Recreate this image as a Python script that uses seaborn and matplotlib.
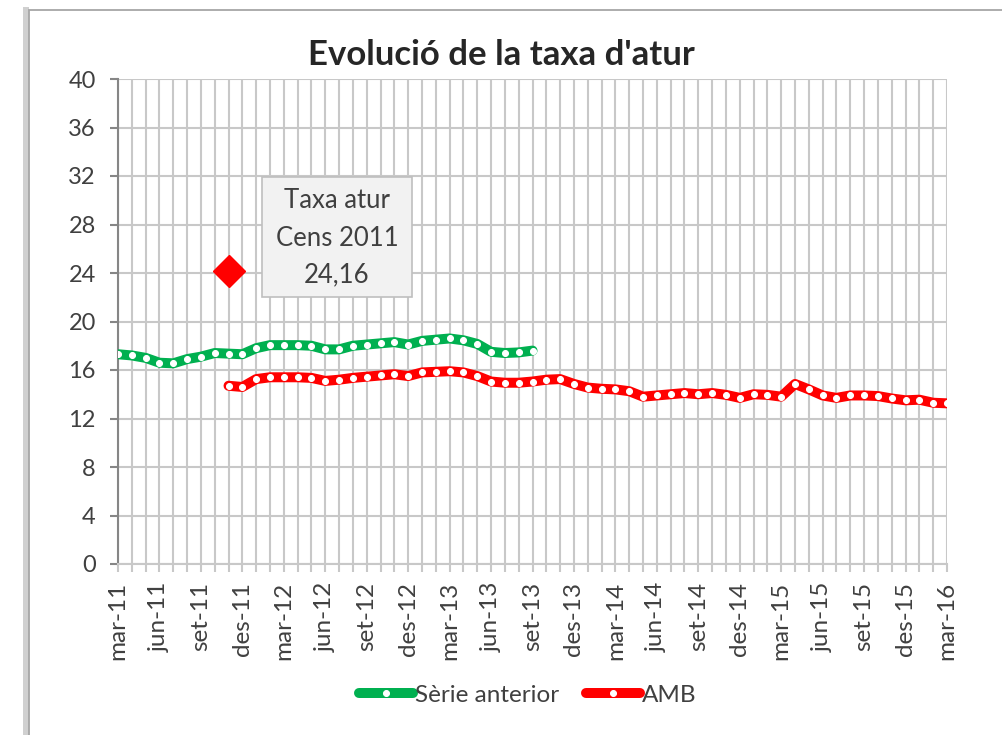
"""
Evolució de la taxa d'atur - Sèrie anterior vs AMB
"""
import matplotlib
matplotlib.use("Agg")
import matplotlib.pyplot as plt
from matplotlib.patches import Rectangle
import pandas as pd
import seaborn as sns

tick_labels = ["mar-11", "jun-11", "set-11", "des-11", "mar-12", "jun-12", "set-12",
               "des-12", "mar-13", "jun-13", "set-13", "des-13", "mar-14", "jun-14",
               "set-14", "des-14", "mar-15", "jun-15", "set-15", "des-15", "mar-16"]

# monthly values, mar-11 .. set-13
serie_anterior = [17.3, 17.2, 17.0, 16.6, 16.55, 16.9, 17.1, 17.4, 17.35, 17.3,
                  17.8, 18.05, 18.05, 18.05, 18.0, 17.7, 17.7, 18.0, 18.1, 18.2,
                  18.3, 18.1, 18.4, 18.5, 18.6, 18.45, 18.15, 17.5, 17.4, 17.45, 17.6]
# monthly values, nov-11 .. mar-16
amb = [14.7, 14.6,
       15.25, 15.4, 15.4, 15.4, 15.35, 15.1, 15.2, 15.35, 15.45, 15.55, 15.65, 15.5,
       15.8, 15.85, 15.9, 15.8, 15.5, 15.05, 14.95, 14.95, 15.05, 15.2, 15.25, 14.85,
       14.55, 14.45, 14.4, 14.25, 13.8, 13.9, 14.0, 14.1, 14.0, 14.1, 13.95, 13.7,
       14.0, 13.95, 13.8, 14.85, 14.4, 13.9, 13.7, 13.9, 13.9, 13.85, 13.65, 13.5,
       13.55, 13.3, 13.25]
serie_start = 0   # mar-11
amb_start = 8     # nov-11
cens_month = 8
cens_value = 24.16
cens_label = "Taxa atur\nCens 2011\n24,16"

df = pd.concat([
    pd.DataFrame({"mes": range(serie_start, serie_start + len(serie_anterior)),
                  "taxa": serie_anterior, "serie": "Sèrie anterior"}),
    pd.DataFrame({"mes": range(amb_start, amb_start + len(amb)),
                  "taxa": amb, "serie": "AMB"}),
])
colors = {"Sèrie anterior": "#00b050", "AMB": "#ff0000"}

sns.set_style("white")
plt.rcParams["font.family"] = ["Lato", "DejaVu Sans"]

fig = plt.figure(figsize=(10.03, 7.35), dpi=100)
ax = fig.add_axes([118 / 1003, 1 - 564 / 735, 829 / 1003, 485 / 735])
ax.set_facecolor("none")
ax.set_zorder(3)

# chart frame with a bit of shadow on the left
fig.patches.append(Rectangle((23 / 1003, -0.1), 0.006, 1.09, transform=fig.transFigure,
                             facecolor="#bdbdbd", edgecolor="none", alpha=0.7,
                             zorder=-2))
fig.patches.append(Rectangle((29 / 1003, -0.1), 1.0, 1 - 10 / 735 + 0.1,
                             transform=fig.transFigure, facecolor="white",
                             edgecolor="#a6a6a6", lw=1.3, zorder=-1))

for name, sub in df.groupby("serie", sort=False):
    sns.lineplot(data=sub, x="mes", y="taxa", ax=ax, color=colors[name], lw=7.2,
                 marker="o", markersize=4.3, markerfacecolor="white",
                 markeredgecolor="white", solid_capstyle="round",
                 solid_joinstyle="round", label=name, zorder=4)

ax.plot([cens_month], [cens_value], marker="D", markersize=16.5, color="#ff0000",
        lw=0, zorder=5)

ax.set_xlim(0, 60)
ax.set_ylim(0, 40)
ax.set_yticks(range(0, 41, 4))
ax.set_xticks(range(0, 61, 3))
ax.set_xticklabels(tick_labels, rotation=90)
ax.set_xticks(range(0, 61), minor=True)
ax.set_xlabel("")
ax.set_ylabel("")

ax.grid(True, which="both", axis="x", color="#c8c8c8", lw=1.5)
ax.grid(True, which="major", axis="y", color="#c8c8c8", lw=1.5)
ax.set_axisbelow(True)
for s in ["top", "right"]:
    ax.spines[s].set_visible(False)
ax.spines["left"].set_color("#868686")
ax.spines["left"].set_linewidth(1.5)
ax.spines["bottom"].set_color("#c8c8c8")
ax.spines["bottom"].set_linewidth(1.5)

ax.tick_params(axis="y", which="major", length=6, width=1.5, color="#868686",
               labelsize=17, labelcolor="#404040", pad=10, left=True)
ax.tick_params(axis="x", which="both", length=6, width=1.5, color="#c8c8c8",
               labelsize=17.5, labelcolor="#404040", pad=7, bottom=True)

# annotation box
ax.add_patch(Rectangle(((262 - 118) / 829, (564 - 297) / 485), 150 / 829, 120 / 485,
                       transform=ax.transAxes, facecolor="#f2f2f2",
                       edgecolor="#bfbfbf", lw=1.2, zorder=6))
ax.text((337 - 118) / 829, (564 - 238) / 485, cens_label, transform=ax.transAxes,
        ha="center", va="center", fontsize=18.5, color="#404040", linespacing=1.6,
        zorder=7)

fig.text(0.5, 1 - 55 / 735, "Evolució de la taxa d'atur", ha="center", va="center",
         fontsize=25, fontweight="bold", color="#262626")

handles, labels = ax.get_legend_handles_labels()
ax.get_legend().remove()
fig.legend(handles, labels, loc="center", bbox_to_anchor=(528 / 1003, 1 - 695 / 735),
           ncol=2, frameon=False, fontsize=17.5, handlelength=2.2, handletextpad=0.1,
           columnspacing=1.1, labelcolor="#404040")

fig.savefig("out.png", dpi=100)
